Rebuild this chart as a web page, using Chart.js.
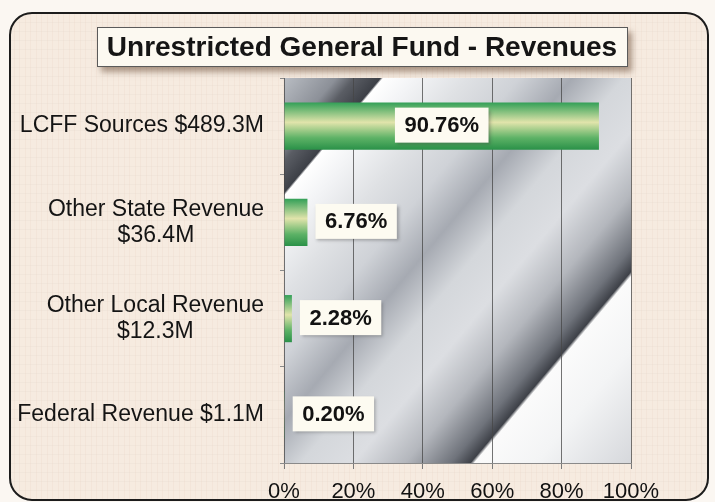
<!DOCTYPE html>
<html>
<head>
<meta charset="utf-8">
<title>Unrestricted General Fund - Revenues</title>
<script src="https://cdn.jsdelivr.net/npm/chart.js@4.4.1/dist/chart.umd.min.js"></script>
<style>
  html, body { margin: 0; padding: 0; background: #fbf7f2; }
  canvas { display: block; }
</style>
</head>
<body>
<canvas id="revChart" width="715" height="502"></canvas>
<script>
// chart data
const chartTitle = 'Unrestricted General Fund - Revenues';
const categories = [
  ['LCFF Sources $489.3M'],
  ['Other State Revenue', '$36.4M'],
  ['Other Local Revenue', '$12.3M'],
  ['Federal Revenue $1.1M'],
];
const sharePct = [90.76, 6.76, 2.28, 0.20];
const xTickLabels = ['0%', '20%', '40%', '60%', '80%', '100%'];

const FONT = '"Liberation Sans", Arial, Helvetica, sans-serif';
const BAR_PCT = 0.49;

function roundRect(ctx, x, y, w, h, r) {
  ctx.beginPath();
  ctx.moveTo(x + r, y);
  ctx.arcTo(x + w, y, x + w, y + h, r);
  ctx.arcTo(x + w, y + h, x, y + h, r);
  ctx.arcTo(x, y + h, x, y, r);
  ctx.arcTo(x, y, x + w, y, r);
  ctx.closePath();
}

// faint linen weave for the slide background
function linenPattern(ctx) {
  const p = document.createElement('canvas');
  p.width = 11;
  p.height = 9;
  const g = p.getContext('2d');
  g.fillStyle = 'rgba(215,175,155,0.10)';
  g.fillRect(3, 0, 1, 9);
  g.fillRect(8, 0, 1, 9);
  g.fillStyle = 'rgba(190,180,170,0.08)';
  g.fillRect(0, 4, 11, 1);
  return ctx.createPattern(p, 'repeat');
}

// brushed metal look behind the bars
function metalFill(ctx, a) {
  const dx = 0.766, dy = 0.643;
  const len = (a.right - a.left) * dx + (a.bottom - a.top) * dy;
  const g = ctx.createLinearGradient(a.left, a.top, a.left + dx * len, a.top + dy * len);
  const stops = [
    [0, '#b9bdc3'], [0.078, '#8c9098'], [0.105, '#5a5d64'], [0.144, '#3d4047'],
    [0.148, '#ffffff'], [0.195, '#f3f4f6'], [0.273, '#dfe1e4'], [0.351, '#cfd2d7'],
    [0.43, '#a6aab2'], [0.507, '#d4d7db'], [0.585, '#dcdee2'], [0.663, '#b4b7bd'],
    [0.731, '#6f737b'], [0.76, '#3e4148'], [0.766, '#fbfbfb'], [0.858, '#f3f4f5'],
    [1, '#d6d8dc'],
  ];
  stops.forEach(([t, c]) => g.addColorStop(t, c));
  return g;
}

const backdrop = {
  id: 'backdrop',
  beforeDraw(chart) {
    const { ctx, width, height, chartArea: a } = chart;
    ctx.save();
    ctx.fillStyle = '#fbf7f2';
    ctx.fillRect(0, 0, width, height);

    // rounded slide frame
    roundRect(ctx, 10, 13, 698, 487, 22);
    ctx.fillStyle = '#f6ebe0';
    ctx.fill();
    ctx.fillStyle = linenPattern(ctx);
    ctx.fill();
    ctx.lineWidth = 2;
    ctx.strokeStyle = '#1c1c1c';
    ctx.stroke();

    // title box with drop shadow
    ctx.shadowColor = 'rgba(110,80,60,0.55)';
    ctx.shadowBlur = 6;
    ctx.shadowOffsetX = 4;
    ctx.shadowOffsetY = 5;
    ctx.fillStyle = '#fcf9f1';
    ctx.fillRect(97, 27, 531, 40);
    ctx.shadowColor = 'transparent';
    ctx.lineWidth = 1;
    ctx.strokeStyle = '#5a5a5a';
    ctx.strokeRect(97.5, 27.5, 530, 39);
    ctx.fillStyle = '#151515';
    ctx.font = 'bold 28px ' + FONT;
    ctx.textAlign = 'center';
    ctx.textBaseline = 'middle';
    ctx.fillText(chartTitle, 362, 48);

    // plot area
    ctx.fillStyle = metalFill(ctx, a);
    ctx.fillRect(a.left, a.top, a.right - a.left, a.bottom - a.top);
    ctx.restore();
  }
};

const categoryLabels = {
  id: 'categoryLabels',
  afterDraw(chart) {
    const { ctx, scales: { y } } = chart;
    ctx.save();
    ctx.font = '23px ' + FONT;
    ctx.fillStyle = '#141414';
    ctx.textBaseline = 'middle';
    ctx.textAlign = 'center';
    const right = chart.chartArea.left - 20;
    categories.forEach((lines, i) => {
      const cy = y.getPixelForValue(i);
      const blockW = Math.max(...lines.map(l => ctx.measureText(l).width));
      const cx = right - blockW / 2;
      lines.forEach((line, k) => {
        ctx.fillText(line, cx, cy + (k - (lines.length - 1) / 2) * 26);
      });
    });
    ctx.restore();
  }
};

const valueTags = {
  id: 'valueTags',
  afterDatasetsDraw(chart) {
    const { ctx } = chart;
    const meta = chart.getDatasetMeta(0);
    ctx.save();
    ctx.font = 'bold 22px ' + FONT;
    ctx.textBaseline = 'middle';
    ctx.textAlign = 'left';
    meta.data.forEach((bar, i) => {
      const text = sharePct[i].toFixed(2) + '%';
      const w = ctx.measureText(text).width + 19;
      const h = 35;
      const x = sharePct[i] > 50 ? (bar.base + bar.x) / 2 - w / 2 : bar.x + 8;
      const y = bar.y - h / 2 - 1;
      ctx.shadowColor = 'rgba(60,60,60,0.35)';
      ctx.shadowBlur = 3;
      ctx.shadowOffsetX = 2;
      ctx.shadowOffsetY = 2;
      ctx.fillStyle = '#fdfbf1';
      ctx.fillRect(x, y, w, h);
      ctx.shadowColor = 'transparent';
      ctx.fillStyle = '#121212';
      ctx.fillText(text, x + 9.5, bar.y);
    });
    ctx.restore();
  }
};

// green tube shading, one gradient per bar
function barFill(context) {
  const chart = context.chart;
  const y = chart.scales.y;
  if (!chart.chartArea || !y) return '#3a9c55';
  const step = Math.abs(y.getPixelForValue(1) - y.getPixelForValue(0));
  const mid = y.getPixelForValue(context.dataIndex);
  const half = step * BAR_PCT / 2;
  const g = chart.ctx.createLinearGradient(0, mid - half, 0, mid + half);
  g.addColorStop(0, '#33a057');
  g.addColorStop(0.42, '#e1e4ab');
  g.addColorStop(0.75, '#5db266');
  g.addColorStop(1, '#2a9148');
  return g;
}

new Chart(document.getElementById('revChart'), {
  type: 'bar',
  data: {
    labels: categories,
    datasets: [{
      data: sharePct,
      backgroundColor: barFill,
      borderWidth: 0,
      barPercentage: BAR_PCT,
      categoryPercentage: 1,
    }],
  },
  options: {
    indexAxis: 'y',
    responsive: false,
    animation: false,
    devicePixelRatio: 1,
    layout: { padding: { left: 0, right: 84, top: 78, bottom: 0 } },
    scales: {
      x: {
        min: 0,
        max: 100,
        afterFit: (scale) => { scale.height = 39; },
        ticks: {
          stepSize: 20,
          autoSkip: false,
          maxRotation: 0,
          padding: 10,
          color: '#111',
          font: { family: FONT, size: 22 },
          callback: (v, i) => xTickLabels[i],
        },
        grid: {
          color: 'rgba(70,70,70,0.75)',
          lineWidth: 1,
          tickLength: 6,
          tickColor: '#7a7a7a',
        },
        border: { display: true, color: '#8a8a8a' },
      },
      y: {
        afterFit: (scale) => { scale.width = 284; },
        ticks: { display: false },
        grid: {
          drawOnChartArea: false,
          tickLength: 4,
          color: '#8a8a8a',
        },
        border: { display: false },
      },
    },
    plugins: {
      legend: { display: false },
      tooltip: { enabled: false },
    },
  },
  plugins: [backdrop, valueTags, categoryLabels],
});
</script>
</body>
</html>
